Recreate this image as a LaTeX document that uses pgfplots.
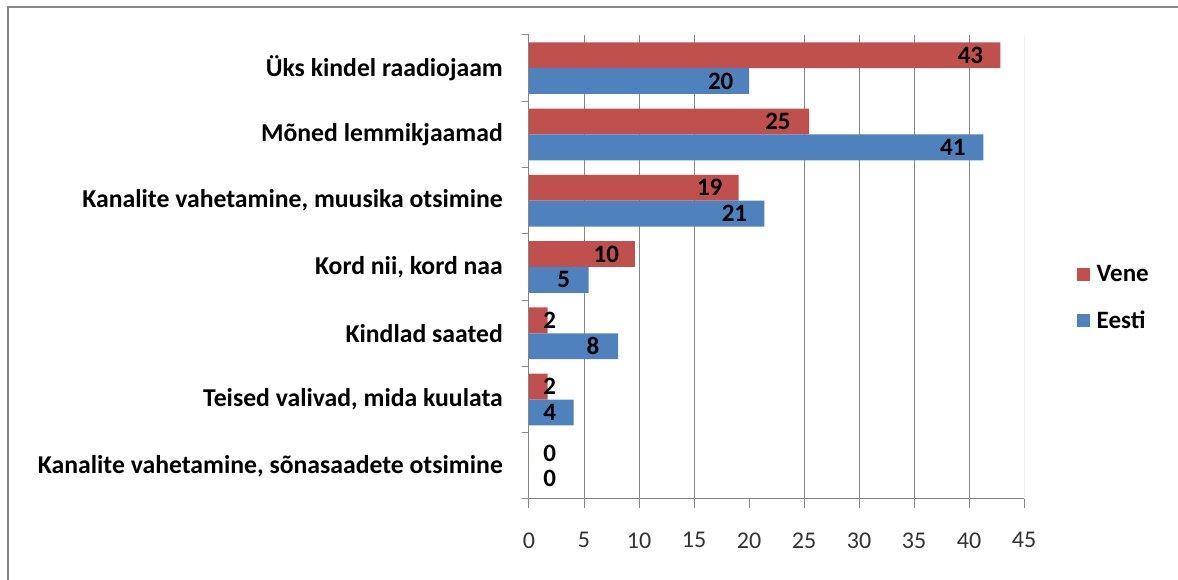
\documentclass[border=0pt]{standalone}
\usepackage{pgfplots}
\pgfplotsset{compat=1.18}
\usepackage{fontspec}
\setmainfont{Carlito}
\definecolor{vene}{HTML}{C0504D}
\definecolor{eesti}{HTML}{4F81BD}
\definecolor{gridc}{HTML}{868686}
\pgfplotsset{
  sqlegend/.style={legend image code/.code={\draw[##1,/tikz/.cd,draw=none] (0pt,-6.5pt) rectangle (13pt,6.5pt);}},
  lbl/.style={draw=none, mark=none, forget plot, nodes near coords, point meta=explicit symbolic,
    nodes near coords align={anchor=east},
    every node near coord/.append style={font=\bfseries\fontsize{25}{25}\selectfont, inner xsep=0pt, text=black}}
}
\begin{document}
\begin{tikzpicture}[x=1pt,y=1pt]
\useasboundingbox (0,0) rectangle (1178,580);
\draw[gridc, line width=2pt] (8,0) -- (8,573) -- (1179,573);
\begin{axis}[
  at={(529pt,81pt)}, anchor=south west,
  scale only axis, width=495pt, height=464pt,
  xmin=0, xmax=45, ymin=0, ymax=7,
  axis x line*=bottom, axis y line*=left,
  axis line style={gridc, line width=1pt},
  xtick={0,5,...,45},
  ytick={0.5,1.5,...,6.5},
  yticklabels={{Kanalite vahetamine, sõnasaadete otsimine},{Teised valivad, mida kuulata},{Kindlad saated},{Kord nii, kord naa},{Kanalite vahetamine, muusika otsimine},{Mõned lemmikjaamad},{Üks kindel raadiojaam}},
  minor ytick={0,1,...,7},
  tick align=outside,
  major tick length=9pt,
  minor tick length=7pt,
  major y tick style={draw=none},
  tick style={gridc, line width=1pt},
  /pgf/number format/assume math mode=true,
  x tick label style={font=\fontsize{24}{24}\selectfont, text=black!80, yshift=-21pt},
  y tick label style={font=\bfseries\fontsize{25.7}{25.7}\selectfont, anchor=east, inner xsep=0pt, xshift=-17pt},
  legend style={at={(1.1,0.433)}, anchor=west, draw=none, fill=none, font=\bfseries\fontsize{25}{25}\selectfont, row sep=24pt, legend cell align=left,
    nodes={inner xsep=7pt}},
]
\pgfplotsinvokeforeach{5,10,15,25,30,35,40,45}{
  \addplot[gridc, line width=1pt, mark=none, forget plot] coordinates {(#1,0) (#1,7)};
}
\addplot[xbar, bar width=0.39, bar shift=0pt, fill=vene, draw=none, sqlegend] coordinates {(42.85,6.695) (25.47,5.695) (19.06,4.695) (9.63,3.695) (1.69,2.695) (1.69,1.695) (0,0.695)};
\addlegendentry{Vene}
\addplot[xbar, bar width=0.39, bar shift=0pt, fill=eesti, draw=none, sqlegend] coordinates {(20.0,6.305) (41.3,5.305) (21.4,4.305) (5.42,3.305) (8.1,2.305) (4.05,1.305) (0,0.305)};
\addlegendentry{Eesti}
\addplot[lbl] coordinates {(41.3,6.695)[43] (23.8,5.695)[25] (17.6,4.695)[19] (8.2,3.695)[10] (2.48,2.695)[2] (2.48,1.695)[2] (2.48,0.695)[0]};
\addplot[lbl] coordinates {(18.6,6.305)[20] (39.7,5.305)[41] (19.85,4.305)[21] (3.75,3.305)[5] (6.4,2.305)[8] (2.48,1.305)[4] (2.48,0.305)[0]};
\end{axis}
\end{tikzpicture}
\end{document}
